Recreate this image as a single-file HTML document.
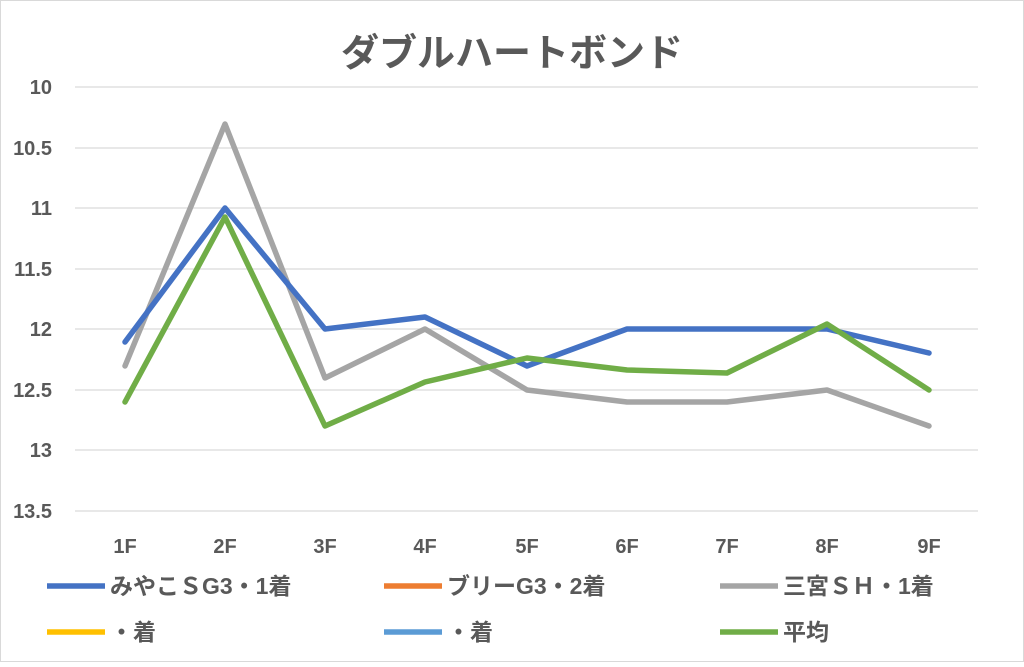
<!DOCTYPE html>
<html><head><meta charset="utf-8"><style>
html,body{margin:0;padding:0;background:#fff}
text{font-family:"Liberation Sans","Noto Sans CJK JP",sans-serif}
</style></head><body>
<svg width="1024" height="662" viewBox="0 0 1024 662">
<rect x="0.5" y="0.5" width="1023" height="661" fill="#fff" stroke="#d9d9d9"/>
<text x="512" y="66" text-anchor="middle" font-size="38" font-weight="bold" fill="#595959">ダブルハートボンド</text>
<g stroke="#d9d9d9" stroke-width="1.3">
<line x1="75" x2="978" y1="87" y2="87"/><line x1="75" x2="978" y1="148" y2="148"/>
<line x1="75" x2="978" y1="208" y2="208"/><line x1="75" x2="978" y1="269" y2="269"/>
<line x1="75" x2="978" y1="329" y2="329"/><line x1="75" x2="978" y1="390" y2="390"/>
<line x1="75" x2="978" y1="450" y2="450"/><line x1="75" x2="978" y1="511" y2="511"/>
</g>
<g font-size="20" font-weight="bold" fill="#595959" text-anchor="end">
<text x="52" y="94">10</text><text x="52" y="155">10.5</text><text x="52" y="215">11</text>
<text x="52" y="276">11.5</text><text x="52" y="336">12</text><text x="52" y="397">12.5</text>
<text x="52" y="457">13</text><text x="52" y="518">13.5</text>
</g>
<g font-size="20" font-weight="bold" fill="#595959" text-anchor="middle">
<text x="125" y="553">1F</text><text x="225" y="553">2F</text><text x="325" y="553">3F</text>
<text x="425" y="553">4F</text><text x="527" y="553">5F</text><text x="627" y="553">6F</text>
<text x="727" y="553">7F</text><text x="827" y="553">8F</text><text x="929" y="553">9F</text>
</g>
<g fill="none" stroke-width="5.5" stroke-linejoin="round" stroke-linecap="round">
<polyline stroke="#a5a5a5" points="125,366 225,124 325,378 425,329 527,390 627,402 727,402 827,390 929,426"/>
<polyline stroke="#4472c4" points="125,342 225,208 325,329 425,317 527,366 627,329 727,329 827,329 929,353"/>
<polyline stroke="#70ad47" points="125,402 225,217 325,426 425,382 527,358 627,370 727,373 827,324 929,390"/>
</g>
<g stroke-width="5.5">
<line x1="47" x2="105" y1="586" y2="586" stroke="#4472c4"/>
<line x1="384" x2="442" y1="586" y2="586" stroke="#ed7d31"/>
<line x1="720" x2="778" y1="586" y2="586" stroke="#a5a5a5"/>
<line x1="47" x2="105" y1="632" y2="632" stroke="#ffc000"/>
<line x1="384" x2="442" y1="632" y2="632" stroke="#5b9bd5"/>
<line x1="720" x2="778" y1="632" y2="632" stroke="#70ad47"/>
</g>
<g font-size="23" font-weight="bold" fill="#595959">
<text x="110" y="594">みやこＳG3・1着</text>
<text x="447" y="594">ブリーG3・2着</text>
<text x="783" y="594">三宮ＳＨ・1着</text>
<text x="110" y="640">・着</text>
<text x="447" y="640">・着</text>
<text x="783" y="640">平均</text>
</g>
</svg>
</body></html>
